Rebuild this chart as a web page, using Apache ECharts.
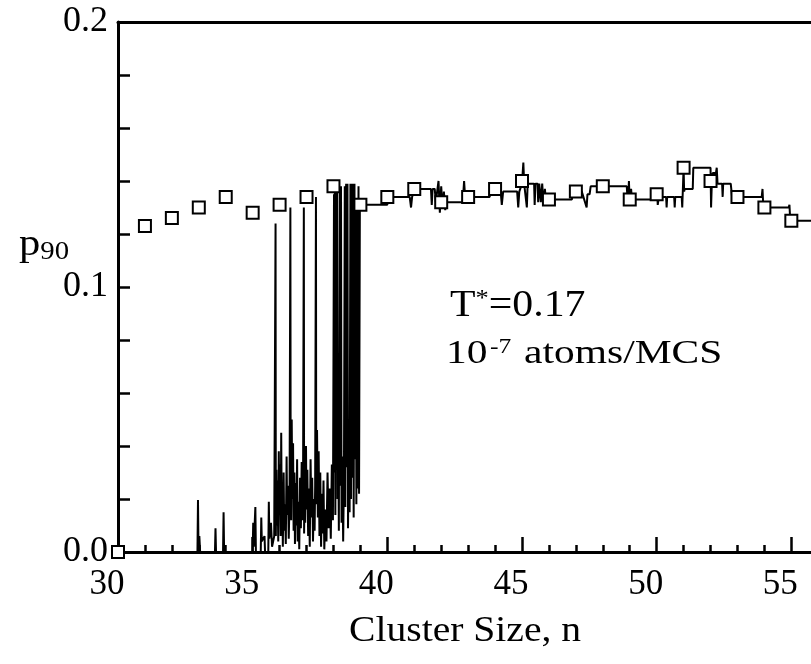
<!DOCTYPE html>
<html>
<head>
<meta charset="utf-8">
<script src="https://cdn.jsdelivr.net/npm/echarts@6/dist/echarts.min.js"></script>
<style>
  html, body { margin: 0; padding: 0; background: #fff; }
  #chart { width: 811px; height: 664px; }
</style>
</head>
<body>
<div id="chart"></div>
<script>
// averaged p90 per cluster size (open squares)
var squareN = [30, 31, 32, 33, 34, 35, 36, 37, 38, 39, 40, 41, 42, 43, 44, 45, 46, 47, 48, 49, 50, 51, 52, 53, 54, 55];
var squareP = [0.0, 0.123, 0.126, 0.130, 0.134, 0.128, 0.131, 0.134, 0.138, 0.131, 0.134, 0.137, 0.132, 0.134, 0.137, 0.140, 0.133, 0.136, 0.138, 0.133, 0.135, 0.145, 0.140, 0.134, 0.130, 0.125];

// single-run trace (solid line)
var traceN = [
  30, 32.95, 32.97, 32.99, 33.02, 33.05, 33.6, 33.62, 33.64, 33.9, 33.92, 33.94,
  35.0, 35.02, 35.04, 35.1, 35.12, 35.3, 35.32, 35.34, 35.44, 35.46, 35.58, 35.6, 35.62, 35.68, 35.72, 35.8,
  35.85, 35.86, 35.88, 35.9, 35.92, 35.95, 35.97, 35.99, 36.01, 36.04, 36.06, 36.08, 36.1, 36.12, 36.15, 36.17, 36.2, 36.23, 36.26, 36.28, 36.31, 36.34, 36.37,
  36.4, 36.41, 36.43, 36.45, 36.47, 36.5, 36.52, 36.55, 36.57, 36.6, 36.62, 36.65, 36.67, 36.7, 36.73, 36.76, 36.79, 36.82, 36.85, 36.87,
  36.9, 36.91, 36.93, 36.95, 36.98, 37.0, 37.03, 37.06, 37.09, 37.12, 37.15, 37.18, 37.21, 37.24, 37.27, 37.3, 37.32,
  37.35, 37.36, 37.39, 37.42, 37.45, 37.48, 37.51, 37.54, 37.57, 37.6, 37.63, 37.66, 37.7, 37.74, 37.78, 37.82, 37.86, 37.9, 37.94, 37.98,
  38.02, 38.03, 38.05, 38.07, 38.09, 38.11, 38.13, 38.15, 38.18, 38.2, 38.23, 38.25, 38.28, 38.3, 38.33, 38.36, 38.39,
  38.42, 38.44, 38.47, 38.49, 38.52, 38.54, 38.57, 38.6, 38.63, 38.65, 38.68, 38.7, 38.73, 38.75, 38.78, 38.8,
  38.83, 38.85, 38.88, 38.9, 38.93, 38.95, 38.98, 39.0,
  40.0, 40.0, 40.83, 40.88, 40.92, 41.0, 41.62, 41.65, 41.68, 41.76, 41.8, 41.9, 41.95, 42.0, 42.05, 42.1, 42.15, 42.2,
  42.8, 42.85, 42.9, 43.0, 43.8, 43.85, 44.2, 44.25, 44.3, 44.82, 44.86, 44.9,
  45.0, 45.05, 45.08, 45.18, 45.21, 45.45, 45.47, 45.5, 45.58, 45.6, 45.64, 45.7, 45.75, 45.8, 45.85, 45.9, 45.96,
  46.03, 46.85, 46.9, 47.22, 47.4, 47.43, 47.51, 47.55, 48.89, 48.93, 48.97, 49.0, 49.05, 49.1, 49.18,
  49.81, 49.85, 50.02, 50.04, 50.08, 50.35, 50.37, 50.39, 50.65, 50.67, 50.69, 50.93, 50.95,
  51.0, 51.02, 51.04, 51.34, 51.36, 52.0, 52.02, 52.05, 52.08, 52.2, 52.23, 52.26, 52.43, 52.45, 52.47,
  52.75, 52.8, 53.9, 53.93, 53.96, 54.9, 54.93, 54.96, 56.5
];
var traceP = [
  0, 0, 0.0196, 0, 0.006, 0, 0, 0.009, 0, 0, 0.015, 0,
  0, 0.011, 0.002, 0.017, 0, 0, 0.013, 0.004, 0.006, 0, 0, 0.019, 0.005, 0.011, 0.002, 0.006,
  0.124, 0.006, 0.031, 0.010, 0.027, 0.004, 0.038, 0.015, 0.033, 0.006, 0.045, 0.012, 0.022, 0.002, 0.030, 0.008, 0.018, 0.003, 0.036, 0.014, 0.025, 0.005, 0.020,
  0.130, 0.035, 0.012, 0.050, 0.020, 0.041, 0.008, 0.030, 0.003, 0.026, 0.010, 0.035, 0.004, 0.019, 0.001, 0.028, 0.009, 0.034, 0.012, 0.022,
  0.130, 0.007, 0.027, 0.011, 0.040, 0.016, 0.031, 0.006, 0.024, 0.002, 0.035, 0.013, 0.028, 0.004, 0.020, 0.008, 0.025,
  0.134, 0.018, 0.046, 0.013, 0.038, 0.006, 0.030, 0.002, 0.022, 0.007, 0.027, 0.001, 0.016, 0.004, 0.030, 0.009, 0.024, 0.005, 0.033, 0.012,
  0.135, 0.030, 0.137, 0.014, 0.137, 0.050, 0.138, 0.020, 0.042, 0.008, 0.138, 0.025, 0.138, 0.011, 0.036, 0.004, 0.030,
  0.138, 0.017, 0.139, 0.032, 0.139, 0.009, 0.044, 0.015, 0.139, 0.020, 0.139, 0.028, 0.139, 0.013, 0.139, 0.035,
  0.131, 0.018, 0.131, 0.024, 0.138, 0.022, 0.131, 0.131,
  0.131, 0.134, 0.134, 0.130, 0.134, 0.137, 0.137, 0.131, 0.137, 0.137, 0.132, 0.140, 0.128, 0.138, 0.130, 0.136, 0.129, 0.132,
  0.132, 0.140, 0.132, 0.134, 0.134, 0.137, 0.137, 0.131, 0.136, 0.136, 0.130, 0.136,
  0.139, 0.147, 0.139, 0.130, 0.139, 0.139, 0.131, 0.139, 0.139, 0.132, 0.139, 0.132, 0.139, 0.131, 0.137, 0.131, 0.134,
  0.133, 0.133, 0.136, 0.136, 0.130, 0.135, 0.135, 0.138, 0.138, 0.131, 0.140, 0.132, 0.137, 0.131, 0.133,
  0.133, 0.136, 0.136, 0.131, 0.134, 0.134, 0.130, 0.134, 0.134, 0.130, 0.134, 0.134, 0.130,
  0.145, 0.136, 0.137, 0.137, 0.145, 0.145, 0.130, 0.140, 0.143, 0.143, 0.145, 0.139, 0.139, 0.134, 0.139,
  0.139, 0.134, 0.134, 0.137, 0.130, 0.130, 0.131, 0.125, 0.125
];

var xTicks = [30, 35, 40, 45, 50, 55, 60];
var yTicks = [0.0, 0.1, 0.2];

var serif = '"Liberation Serif", "DejaVu Serif", serif';

var traceData = traceN.map(function (n, i) { return [n, traceP[i]]; });
var squareData = squareN.map(function (n, i) { return [n, squareP[i]]; });

var chart = echarts.init(document.getElementById('chart'));
var opt = {
  animation: false,
  backgroundColor: '#fff',
  grid: {
    left: 118,
    top: 22,
    width: 808,
    height: 530,
    containLabel: false,
    outerBoundsMode: 'none'
  },
  xAxis: [
    {
      type: 'value',
      min: xTicks[0],
      max: xTicks[xTicks.length - 1],
      interval: 5,
      axisLine: { onZero: false, lineStyle: { color: '#000', width: 3 } },
      axisTick: { inside: true, length: 15, lineStyle: { color: '#000', width: 2.5 } },
      minorTick: { show: true, splitNumber: 5, length: 7, lineStyle: { color: '#000', width: 2.5 } },
      splitLine: { show: false },
      axisLabel: {
        color: '#000',
        fontFamily: serif,
        fontSize: 35,
        margin: 15,
        padding: [0, 22, 0, 0]
      }
    },
    {
      type: 'value',
      position: 'top',
      min: xTicks[0],
      max: xTicks[xTicks.length - 1],
      axisLine: { show: true, onZero: false, lineStyle: { color: '#000', width: 3 } },
      axisTick: { show: false },
      axisLabel: { show: false },
      splitLine: { show: false }
    }
  ],
  yAxis: {
    type: 'value',
    min: yTicks[0],
    max: yTicks[yTicks.length - 1],
    interval: 0.1,
    axisLine: { show: true, lineStyle: { color: '#000', width: 3 } },
    axisTick: { inside: true, length: 12, lineStyle: { color: '#000', width: 2.5 } },
    minorTick: { show: true, splitNumber: 5, length: 12, lineStyle: { color: '#000', width: 2.5 } },
    splitLine: { show: false },
    axisLabel: {
      color: '#000',
      fontFamily: serif,
      fontSize: 36,
      margin: 10,
      formatter: function (v) { return v.toFixed(1); }
    }
  },
  graphic: [
    {
      type: 'text',
      x: 349,
      y: 614,
      scaleX: 1.1,
      style: { text: 'Cluster Size, n', font: '36px ' + serif, fill: '#000' }
    },
    {
      type: 'text',
      x: 19,
      y: 226,
      scaleX: 1.15,
      style: {
        text: '{p|p}{s|90}',
        rich: {
          p: { font: '37px ' + serif, fill: '#000' },
          s: { font: '25px ' + serif, fill: '#000', padding: [14, 0, 0, 0] }
        }
      }
    },
    {
      type: 'text',
      x: 450,
      y: 287,
      scaleX: 1.1,
      style: {
        text: '{a|T}{s|*}{a|=0.17}',
        rich: {
          a: { font: '38px ' + serif, fill: '#000' },
          s: { font: '24px ' + serif, fill: '#000', padding: [0, 0, 14, 0] }
        }
      }
    },
    {
      type: 'text',
      x: 446,
      y: 337,
      scaleX: 1.22,
      style: {
        text: '{a|10}{s|-7}{a| atoms/MCS}',
        rich: {
          a: { font: '34px ' + serif, fill: '#000' },
          s: { font: '21px ' + serif, fill: '#000', padding: [0, 2, 13, 2] }
        }
      }
    }
  ],
  series: [
    {
      name: 'trace',
      type: 'line',
      data: traceData,
      showSymbol: false,
      symbol: 'none',
      lineStyle: { color: '#000', width: 2 },
      z: 2
    },
    {
      name: 'average',
      type: 'scatter',
      data: squareData,
      symbol: 'rect',
      symbolSize: 12,
      itemStyle: { color: '#fff', borderColor: '#000', borderWidth: 2, opacity: 1 },
      z: 3
    }
  ]
};
chart.setOption(opt);
</script>
</body>
</html>
